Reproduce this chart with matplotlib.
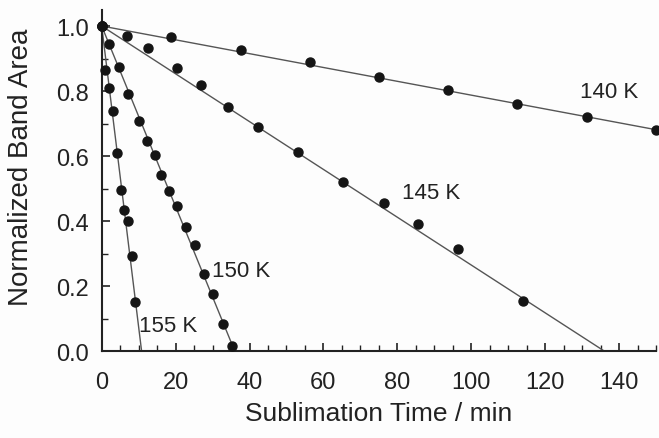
import matplotlib
matplotlib.use('Agg')
import matplotlib.pyplot as plt
from matplotlib.ticker import MultipleLocator

plt.rcParams['font.family'] = ['Liberation Sans', 'DejaVu Sans']

# --- data ---
t_140 = [0, 18.8, 37.6, 56.4, 75.1, 93.8, 112.5, 131.3, 150.0]
a_140 = [1.0, 0.967, 0.927, 0.888, 0.844, 0.803, 0.760, 0.719, 0.681]

t_145 = [0, 6.9, 12.6, 20.3, 27.0, 34.3, 42.2, 53.1, 65.4, 76.4, 85.7, 96.4, 114.1]
a_145 = [1.0, 0.970, 0.931, 0.870, 0.819, 0.752, 0.688, 0.611, 0.521, 0.457, 0.391, 0.314, 0.153]

t_150 = [0, 2.1, 4.8, 7.2, 10.0, 12.2, 14.3, 16.1, 18.3, 20.5, 22.8, 25.3, 27.8, 30.2, 32.8, 35.2]
a_150 = [1.0, 0.945, 0.875, 0.791, 0.709, 0.646, 0.602, 0.543, 0.492, 0.445, 0.381, 0.327, 0.237, 0.175, 0.083, 0.016]

t_155 = [0, 0.9, 2.1, 3.0, 4.1, 5.1, 6.0, 7.0, 8.1, 9.1]
a_155 = [1.0, 0.866, 0.808, 0.740, 0.610, 0.497, 0.435, 0.400, 0.293, 0.152]

# linear fits: start at (0, 1), end point (t_end, a_end)
fit_end_t = [150.0, 136.0, 36.0, 10.8]
fit_end_a = [0.681, 0.0, 0.0, 0.0]

labels = ['140 K', '145 K', '150 K', '155 K']
label_x = [137.3, 89.1, 37.8, 18.0]
label_y = [0.80, 0.489, 0.247, 0.078]

series = [(t_140, a_140), (t_145, a_145), (t_150, a_150), (t_155, a_155)]

fig = plt.figure(figsize=(6.59, 4.39), dpi=100, facecolor='#fdfdfd')
ax = fig.add_axes([0.1543, 0.198, 0.8412, 0.7775])
ax.set_facecolor('#fdfdfd')

for (t, a), te, ae in zip(series, fit_end_t, fit_end_a):
    ax.plot([0, te], [1.0, ae], color='#555555', lw=1.0, zorder=2)
    ax.plot(t, a, 'o', color='#151515', ms=6.5, mec='#151515', zorder=3,
            clip_on=False)

for lab, x, y in zip(labels, label_x, label_y):
    ax.text(x, y, lab, fontsize=16, color='#222222', ha='center', va='center')

ax.set_xlim(0, 150)
ax.set_ylim(0, 1.05)
ax.xaxis.set_major_locator(MultipleLocator(20))
ax.xaxis.set_minor_locator(MultipleLocator(5))
ax.yaxis.set_major_locator(MultipleLocator(0.2))
ax.yaxis.set_minor_locator(MultipleLocator(0.1))
ax.yaxis.set_major_formatter(plt.FormatStrFormatter('%.1f'))

for side in ['top', 'right']:
    ax.spines[side].set_visible(False)
for side in ['left', 'bottom']:
    ax.spines[side].set_linewidth(1.5)
    ax.spines[side].set_color('#222222')

ax.tick_params(which='major', direction='in', length=6, width=1.2,
               labelsize=17, colors='#222222')
ax.tick_params(which='minor', direction='in', length=4, width=1.0,
               colors='#222222')
ax.tick_params(axis='x', which='major', pad=14)
ax.tick_params(axis='y', which='major', pad=9)

ax.set_xlabel('Sublimation Time / min', fontsize=19, color='#222222', labelpad=6)
ax.set_ylabel('Normalized Band Area', fontsize=20, color='#222222')
ax.yaxis.set_label_coords(-0.122, 0.54)

fig.savefig('out.png', dpi=100, facecolor=fig.get_facecolor())
